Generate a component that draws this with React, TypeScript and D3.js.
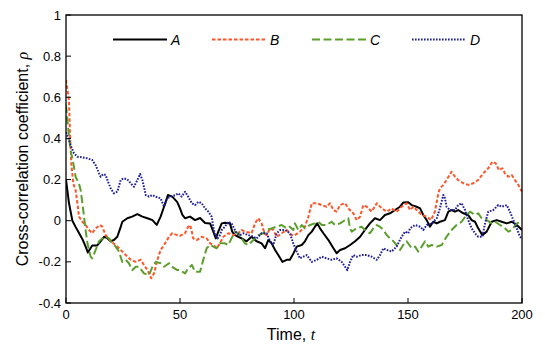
import React from "react";
import * as d3 from "d3";

// Time t and cross-correlation values
const tA = [0,1.3,2.8,4.2,5.7,7.2,8.6,9.6,11.5,13.7,15.2,16.7,18.1,19.6,21,22.5,24,24.7,26.9,29,31.3,33.5,35.7,37.9,39.8,41.5,43,44.7,46.6,48.8,50,51,52.2,54.4,56.6,58.8,61,63.2,64.6,65.7,66.8,68.3,69.7,71.9,72.9,74.1,75.6,77,79.2,81.4,83.6,85.8,87.3,88.7,90.2,91.7,93.1,94.9,96.8,98.2,99.7,101.2,103.4,104.8,106.3,107.8,109.2,110.2,111.4,112.9,115.1,117.3,118.7,120.2,122.4,124.6,126.8,129,131.1,133.3,135.5,137.7,139.9,142.1,144.3,146.5,147.9,150.1,151.6,153.8,155.3,156.7,158.2,159.6,161.1,162.6,164,166.2,167.7,169.1,170.6,172,174.3,176.4,177.9,179.4,180.8,182.6,184.5,186.7,188.9,191.1,193.3,195.5,197.7,200];
const yA = [0.2,0.086,0,-0.03,-0.06,-0.09,-0.126,-0.155,-0.12,-0.12,-0.1,-0.078,-0.085,-0.1,-0.094,-0.078,-0.03,-0.005,0.012,0.02,0.032,0.02,0.012,0.003,-0.02,0.02,0.068,0.125,0.117,0.09,0.06,0.03,0.012,0.02,0.003,0.013,-0.011,-0.013,-0.053,-0.086,-0.053,-0.013,-0.01,-0.013,-0.053,-0.07,-0.078,-0.086,-0.1,-0.078,-0.1,-0.11,-0.134,-0.094,-0.11,-0.142,-0.167,-0.2,-0.19,-0.19,-0.16,-0.126,-0.118,-0.1,-0.07,-0.053,-0.029,-0.013,-0.037,-0.061,-0.094,-0.134,-0.158,-0.142,-0.134,-0.118,-0.1,-0.078,-0.045,-0.013,0.012,0.003,0.028,0.036,0.052,0.068,0.088,0.09,0.076,0.068,0.06,0.028,0.003,-0.029,-0.005,-0.013,-0.005,0.003,0.044,0.052,0.044,0.052,0.036,0.028,0.003,-0.005,-0.037,-0.07,-0.053,-0.005,0.003,-0.005,-0.013,-0.005,-0.021,-0.045];

const tB = [0,1.3,1.8,2.3,3.2,4.2,5,5.7,7.2,8.6,10.1,11.5,13,14.9,15.9,17.4,19.6,21.8,24,26.2,28.4,30.6,32.8,34.2,35.7,37.4,38.6,40.1,41.5,43,45.2,46.6,48.8,50,52.2,53.6,54.4,55.2,55.8,57.3,59.5,61.7,63.2,64.6,66.1,67.5,69,71.2,73.4,75.6,77,78.5,81.4,82.9,84.3,85.8,87,88,89.5,90.9,92.4,94.6,96.8,99,100.4,102.6,104.8,106.3,107.8,110,112.2,114.3,115.8,117.3,118.7,120.2,122.4,123.8,126,127.5,129,130.4,131.9,134.1,136.3,138.5,140.7,142.8,145,147.2,149.4,150.9,152.3,153.8,156,158.2,160.1,161.8,163.3,164,165.5,166.9,169.1,170.6,172,174.3,176.4,178.6,180.8,183,185.2,187,188.5,189.9,191.4,192.5,194,195.5,196.9,198.4,200];
const yB = [0.684,0.587,0.41,0.28,0.18,0.15,0.085,0.02,-0.005,-0.021,-0.045,-0.061,-0.037,-0.021,-0.029,-0.07,-0.1,-0.118,-0.142,-0.167,-0.19,-0.2,-0.19,-0.215,-0.24,-0.28,-0.256,-0.19,-0.142,-0.118,-0.078,-0.061,-0.07,-0.074,-0.061,-0.029,-0.021,-0.053,-0.086,-0.094,-0.078,-0.086,-0.11,-0.118,-0.134,-0.11,-0.078,-0.061,-0.07,-0.061,-0.045,-0.053,-0.061,-0.013,0.012,-0.013,-0.061,-0.07,-0.037,-0.045,-0.078,-0.061,-0.045,-0.07,-0.07,-0.053,-0.029,0.02,0.085,0.085,0.076,0.068,0.085,0.052,0.044,0.076,0.085,0.06,0.036,0.003,0.02,0.076,0.068,0.044,0.085,0.06,0.044,0.06,0.044,0.068,0.085,0.052,0.068,0.052,0.028,0.02,0.003,0.044,0.133,0.157,0.174,0.198,0.238,0.214,0.198,0.182,0.174,0.182,0.198,0.23,0.255,0.287,0.279,0.246,0.255,0.23,0.214,0.222,0.198,0.174,0.141];

const tC = [0,0.9,1.3,2,3.2,4.2,5.7,6.4,7.2,7.9,8.6,9.4,10.8,11.5,13,14.5,15.9,17.4,18.9,20.3,21.8,23.2,24.7,26.2,27.6,29.1,30.6,32,34.2,36.4,37.9,39.4,41.5,43,45.2,46.6,48.8,50,52.2,53.6,55.2,56.6,58.8,60.2,61.7,63.2,64.6,66.1,67.5,69.7,71.2,72.6,74.1,75.6,77,78.5,79.9,82.2,84.3,86.5,88,90.2,92.4,94.6,96.8,98.2,99.7,100.4,101.9,103.4,104.8,107,109.2,110.7,112.2,114.3,116.5,118,120.2,122.4,123.8,124.6,125.3,127.5,129.7,131.1,133.3,134.8,136.3,137.7,139.2,140.7,142.1,143.6,145,146.5,147.9,149.4,150.6,151.6,153.1,154.5,156,157.5,158.9,160.4,162.6,164.8,166.9,169.1,171.3,173.5,175.7,177.2,179.4,180.8,182.3,184.5,186.7,188.2,190.4,192.5,194,195.5,197.7,200];
const yC = [0.563,0.457,0.41,0.344,0.28,0.214,0.18,0.15,0.085,0.02,-0.045,-0.11,-0.175,-0.183,-0.142,-0.1,-0.086,-0.078,-0.086,-0.11,-0.126,-0.15,-0.2,-0.19,-0.207,-0.24,-0.224,-0.224,-0.256,-0.264,-0.224,-0.2,-0.207,-0.224,-0.207,-0.224,-0.24,-0.24,-0.256,-0.232,-0.215,-0.248,-0.248,-0.19,-0.134,-0.118,-0.126,-0.134,-0.11,-0.11,-0.118,-0.086,-0.053,-0.061,-0.086,-0.11,-0.118,-0.094,-0.07,-0.061,-0.045,-0.037,-0.029,-0.021,-0.037,-0.029,-0.045,-0.013,-0.045,-0.021,-0.037,-0.021,-0.013,-0.005,-0.021,-0.021,-0.005,-0.021,-0.013,0.003,0.012,-0.037,-0.053,-0.037,-0.029,-0.045,-0.061,-0.037,-0.021,-0.029,-0.045,-0.07,-0.086,-0.1,-0.118,-0.142,-0.118,-0.1,-0.118,-0.134,-0.126,-0.15,-0.126,-0.1,-0.126,-0.118,-0.126,-0.118,-0.078,-0.045,-0.021,-0.005,0.028,0.044,0.028,0.036,0.012,0.003,-0.013,-0.005,-0.021,-0.037,-0.053,-0.045,-0.013,-0.005];

const tD = [0,1.3,2.3,3.5,5,7.2,9.4,11.5,13,14.5,15.2,16.4,17.4,18.4,19.6,21,22.5,24,25.4,26.9,28.4,29.8,31.3,32.5,33.5,35,36.4,37.9,39.3,41.5,43,44.4,45.9,48.1,49.3,50.7,52.2,53.6,55.2,56.6,58.1,59.5,61,62.4,63.9,64.6,65.4,66.5,67.5,68.3,69.7,71.2,72.6,74.8,76.3,77.8,80,82.2,83.6,85.8,88,89.5,90.9,92.4,93.9,96,98.2,99.7,101.2,102.6,104.1,105.6,107.8,110,112.2,114.3,116.5,118.7,120.9,122.4,123.4,124.6,126,127.5,129.7,131.9,134.1,136.3,137.7,139.2,140.7,142.8,145,147.2,148.7,150.1,150.9,153.1,155.3,156.7,158.2,160.4,162.6,164,165.5,166.2,166.9,168.4,170.6,172,173.5,175,176.4,177.9,179.4,180.8,182.6,183.8,185.2,187.4,189.6,191.1,193.3,194.7,196.2,197.7,199.1,200];
const yD = [0.43,0.392,0.36,0.328,0.311,0.308,0.303,0.295,0.27,0.23,0.214,0.227,0.222,0.19,0.157,0.133,0.141,0.198,0.206,0.201,0.182,0.165,0.198,0.227,0.198,0.125,0.117,0.125,0.117,0.109,0.068,0.109,0.117,0.125,0.133,0.117,0.141,0.117,0.085,0.076,0.092,0.085,0.06,0.044,0.02,-0.029,-0.07,-0.086,-0.07,-0.045,-0.029,-0.005,-0.013,-0.061,-0.07,-0.061,-0.07,-0.078,-0.086,-0.061,-0.061,-0.1,-0.118,-0.061,-0.045,-0.045,-0.061,-0.11,-0.15,-0.183,-0.175,-0.167,-0.2,-0.19,-0.175,-0.183,-0.19,-0.183,-0.2,-0.224,-0.24,-0.2,-0.167,-0.175,-0.167,-0.167,-0.175,-0.19,-0.167,-0.134,-0.142,-0.15,-0.126,-0.078,-0.053,-0.061,-0.037,-0.021,-0.029,-0.045,-0.021,-0.013,0.012,0.06,0.125,0.109,0.068,0.052,0.052,0.076,0.085,0.052,0.003,-0.037,-0.061,-0.078,-0.078,-0.013,0.044,0.052,0.076,0.068,0.076,0.044,0.003,-0.037,-0.078,-0.086];

const seriesNames = ["A", "B", "C", "D"];
const seriesColors = ["#000000", "#ff5528", "#5c9e2c", "#1c1c9a"];
const seriesDashes = ["none", "3.5,2", "8,3.5", "1.6,1.4"];
const xTicks = [0, 50, 100, 150, 200];
const yTicks = [-0.4, -0.2, 0, 0.2, 0.4, 0.6, 0.8, 1];

const W = 545, H = 352;
const L = 66, R = 522, T = 15, B = 303;
const FONT = "'Liberation Sans', Arial, sans-serif";

export default function App() {
  const x = d3.scaleLinear().domain([0, 200]).range([L, R]);
  const y = d3.scaleLinear().domain([-0.4, 1]).range([B, T]);
  const line = d3.line<[number, number]>().x(d => x(d[0])).y(d => y(d[1]));
  const data = [
    d3.zip(tA, yA), d3.zip(tB, yB), d3.zip(tC, yC), d3.zip(tD, yD),
  ] as [number, number][][];
  const legendX = [113, 212, 312, 412];
  const fmt = (v: number) => (Math.abs(v) < 1e-9 ? "0" : String(+v.toFixed(1)));

  return (
    <svg width={W} height={H} style={{ position: "absolute", left: 0, top: 0 }}>
      <rect x={0} y={0} width={W} height={H} fill="#fff" />
      <defs>
        <clipPath id="plotclip">
          <rect x={L} y={T} width={R - L} height={B - T} />
        </clipPath>
      </defs>
      <g clipPath="url(#plotclip)">
        {data.map((d, i) => (
          <path key={i} d={line(d) || ""} fill="none" stroke={seriesColors[i]}
            strokeWidth={2} strokeDasharray={seriesDashes[i]} strokeLinejoin="round" />
        ))}
      </g>
      <rect x={L} y={T} width={R - L} height={B - T} fill="none" stroke="#000" strokeWidth={1.3} />
      {xTicks.map(t => (
        <g key={t}>
          <line x1={x(t)} x2={x(t)} y1={B} y2={B - 5} stroke="#000" strokeWidth={1} />
          <text x={x(t)} y={319} textAnchor="middle" fontFamily={FONT} fontSize={13}>{t}</text>
        </g>
      ))}
      {yTicks.map(t => (
        <g key={t}>
          <line x1={L} x2={L + 5} y1={y(t)} y2={y(t)} stroke="#000" strokeWidth={1} />
          <text x={61} y={y(t) + 4.5} textAnchor="end" fontFamily={FONT} fontSize={13}>{fmt(t)}</text>
        </g>
      ))}
      {seriesNames.map((n, i) => (
        <g key={n}>
          <line x1={legendX[i]} x2={legendX[i] + 54} y1={39.5} y2={39.5} stroke={seriesColors[i]}
            strokeWidth={2} strokeDasharray={seriesDashes[i]} />
          <text x={legendX[i] + 58} y={45} fontFamily={FONT} fontSize={14} fontStyle="italic">{n}</text>
        </g>
      ))}
      <text x={291} y={340} textAnchor="middle" fontFamily={FONT} fontSize={16}>
        Time, <tspan fontFamily="'Liberation Serif', serif" fontStyle="italic" fontSize={16}>t</tspan>
      </text>
      <text transform={`translate(27.5, ${159}) rotate(-90)`} textAnchor="middle" fontFamily={FONT} fontSize={16}>
        Cross-correlation coefficient, <tspan fontFamily="'Liberation Serif', serif" fontStyle="italic" fontSize={16}>ρ</tspan>
      </text>
    </svg>
  );
}
